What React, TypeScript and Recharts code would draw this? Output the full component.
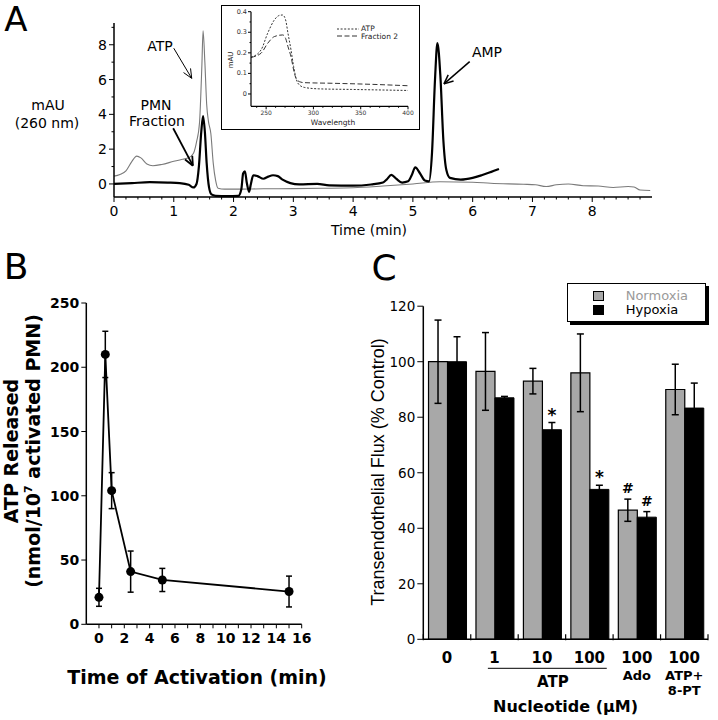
import React from "react";
import {
  LineChart,
  Line,
  XAxis,
  YAxis,
  ReferenceLine,
  BarChart,
  Bar,
  ErrorBar,
  LabelList,
  Legend,
} from "recharts";

const SANS = "'DejaVu Sans', Verdana, sans-serif";
const ARIAL = "'Liberation Sans', Arial, sans-serif";

// ---------- Panel A: HPLC trace at 260 nm ----------
const atpTime = [0, 0.1, 0.2, 0.3, 0.38, 0.45, 0.55, 0.65, 0.8, 1.0, 1.15, 1.25, 1.33, 1.38, 1.43, 1.47, 1.49, 1.52, 1.55, 1.58, 1.62, 1.66, 1.7, 1.74, 1.85, 2.0, 2.5, 3.0, 3.5, 4.0, 4.5, 5.0, 5.45, 6.0, 6.3, 6.85, 7.05, 7.23, 7.4, 7.6, 7.85, 8.1, 8.35, 8.6, 8.7, 8.8, 8.97];
const atpAbs = [0.45, 0.55, 0.75, 1.3, 1.6, 1.5, 1.15, 1.05, 1.12, 1.3, 1.42, 1.5, 1.76, 2.4, 3.5, 6.8, 8.8, 7.0, 4.6, 3.6, 2.9, 1.2, 0.2, -0.25, -0.3, -0.3, -0.28, -0.27, -0.25, -0.22, -0.12, 0.0, 0.13, 0.1, 0.04, -0.02, -0.05, -0.15, -0.05, 0.0, -0.1, -0.12, -0.2, -0.15, -0.18, -0.35, -0.38];
const pmnTime = [0, 0.3, 0.6, 0.9, 1.1, 1.25, 1.33, 1.38, 1.42, 1.46, 1.49, 1.52, 1.55, 1.59, 1.63, 1.7, 1.9, 2.08, 2.13, 2.16, 2.19, 2.22, 2.26, 2.29, 2.33, 2.4, 2.5, 2.58, 2.66, 2.74, 2.82, 2.95, 3.1, 3.4, 3.6, 4.0, 4.3, 4.5, 4.56, 4.64, 4.72, 4.82, 4.92, 4.98, 5.04, 5.12, 5.2, 5.27, 5.32, 5.37, 5.41, 5.46, 5.51, 5.56, 5.62, 5.8, 6.0, 6.15, 6.3, 6.44];
const pmnAbs = [0, 0.05, 0.1, 0.08, 0.05, -0.05, -0.2, 0.0, 1.0, 3.0, 3.9, 3.0, 1.2, -0.2, -0.6, -0.68, -0.7, -0.68, -0.3, 0.6, 0.72, 0.1, -0.45, 0.0, 0.5, 0.45, 0.3, 0.42, 0.5, 0.45, 0.25, 0.05, -0.03, 0.0, -0.08, -0.1, -0.03, 0.08, 0.25, 0.52, 0.3, 0.08, 0.15, 0.5, 0.95, 0.6, 0.2, 0.15, 1.8, 6.0, 8.1, 6.2, 2.5, 0.8, 0.35, 0.25, 0.35, 0.5, 0.68, 0.86];
const timeTicks = Array.from({ length: 45 }, (_, i) => Math.round(i * 2) / 10);
const absTicks = [0, 1, 2, 3, 4, 5, 6, 7, 8, 9];

// inset: UV spectra
const insetAtpNm = [234, 244.6, 251.6, 258.7, 264, 267.5, 270.6, 273.1, 276.3, 279.1, 281.6, 285.1, 290.3, 305, 340, 400];
const insetAtp = [0.178, 0.214, 0.295, 0.36, 0.382, 0.384, 0.36, 0.295, 0.214, 0.133, 0.076, 0.044, 0.032, 0.025, 0.022, 0.017];
const insetFracNm = [234, 244.6, 251.6, 258.7, 267.5, 270.6, 273.1, 276.3, 279.1, 281.6, 285.1, 290.3, 320, 360, 400];
const insetFrac = [0.178, 0.198, 0.246, 0.279, 0.287, 0.27, 0.23, 0.181, 0.117, 0.076, 0.06, 0.055, 0.052, 0.047, 0.04];
const nmTicks = [240, 250, 260, 270, 280, 290, 300, 310, 320, 330, 340, 350, 360, 370, 380, 390, 400];
const mauTicks = [0, 0.05, 0.1, 0.15, 0.2, 0.25, 0.3, 0.35, 0.4];

// ---------- Panel B: ATP release time course ----------
const bTime = [0, 0.5, 1, 2.5, 5, 15];
const bAtp = [21, 210, 104, 41, 34.5, 25.5];
const bErr = [7, 18, 14, 16, 9, 12];
const bTimeTicks = [0, 1, 2, 3, 4, 5, 6, 7, 8, 9, 10, 11, 12, 13, 14, 15, 16];
const bAtpTicks = [0, 50, 100, 150, 200, 250];

// ---------- Panel C: transendothelial flux ----------
const cKeys = ["0", "1", "10", "100", "Ado 100", "ATP+8-PT 100"];
const doses = ["0", "1", "10", "100", "100", "100"];
const agentTop = ["", "", "", "", "Ado", "ATP+"];
const agentBottom = ["", "", "", "", "", "8-PT"];
const normoxia = [100, 96.5, 93, 96, 46.5, 90];
const normoxiaErr = [15, 14, 4.6, 14, 4, 9.1];
const hypoxia = [100, 87, 75.5, 54, 44, 83.3];
const hypoxiaErr = [9, 0.5, 2.6, 1.5, 2, 9];
const normoxiaMarks = ["", "", "", "", "#", ""];
const hypoxiaMarks = ["", "", "*", "*", "#", ""];
const fluxTicks = [0, 20, 40, 60, 80, 100, 120];

const near = (a: number, b: number) => Math.abs(a - b) < 1e-6;

function Txt({ x, y, size, bold, color, family, rotate, children }: any) {
  return (
    <div
      style={{
        position: "absolute",
        left: x,
        top: y,
        transform: `translate(-50%, -50%)${rotate ? ` rotate(${rotate}deg)` : ""}`,
        fontFamily: family || SANS,
        fontSize: size,
        fontWeight: bold ? 700 : 400,
        color: color || "#000",
        whiteSpace: "nowrap",
        lineHeight: 1,
      }}
    >
      {children}
    </div>
  );
}

// generic tick renderers (axis tickSize/tickMargin are 0, so x/y sit on the axis line)
function bottomTick(opt: any) {
  return (p: any) => {
    const v = p.payload.value;
    const major = opt.isMajor(v);
    const len = major ? opt.majorLen : opt.minorLen;
    const show = major && (!opt.showLabel || opt.showLabel(v));
    return (
      <g>
        <line x1={p.x} x2={p.x} y1={p.y} y2={p.y + len} stroke="#000" strokeWidth={1} />
        {show && (
          <text x={p.x} y={p.y + opt.labelDy} textAnchor="middle" dominantBaseline="central" fontFamily={SANS} fontSize={opt.fontSize} fontWeight={opt.bold ? 700 : 400} fill={opt.color || "#000"}>
            {opt.fmt ? opt.fmt(v) : v}
          </text>
        )}
      </g>
    );
  };
}

function leftTick(opt: any) {
  return (p: any) => {
    const v = p.payload.value;
    const major = opt.isMajor(v);
    const len = major ? opt.majorLen : opt.minorLen;
    return (
      <g>
        <line x1={p.x} x2={p.x - len} y1={p.y} y2={p.y} stroke="#000" strokeWidth={1} />
        {major && (
          <text x={p.x - opt.labelDx} y={p.y} textAnchor="end" dominantBaseline="central" fontFamily={SANS} fontSize={opt.fontSize} fontWeight={opt.bold ? 700 : 400} fill={opt.color || "#000"}>
            {opt.fmt ? opt.fmt(v) : v}
          </text>
        )}
      </g>
    );
  };
}

// arrows for panel A annotations, built in data units
const A_SX = 538 / 9;
const A_SY = 174 / 10;
const aArrows = [
  { from: [1.0, 7.8], to: [1.3, 6.07], w: 1 },
  { from: [0.99, 3.2], to: [1.32, 1.05], w: 1.8 },
  { from: [5.95, 7.03], to: [5.52, 5.75], w: 1.5 },
];
function arrowSegments(from: number[], to: number[], head = 10, spread = 0.42) {
  const ang = Math.atan2(-(to[1] - from[1]) * A_SY, (to[0] - from[0]) * A_SX);
  const back = ang + Math.PI;
  const arm = (d: number) => [to[0] + (Math.cos(back + d) * head) / A_SX, to[1] - (Math.sin(back + d) * head) / A_SY];
  return [[from, to], [arm(spread), to], [arm(-spread), to]];
}

function PanelA() {
  const atp = atpTime.map((t, i) => ({ t, v: atpAbs[i] }));
  const pmn = pmnTime.map((t, i) => ({ t, v: pmnAbs[i] }));
  return (
    <div style={{ position: "absolute", left: 0, top: 0 }}>
      <LineChart width={718} height={245} margin={{ top: 23, right: 66, bottom: 18, left: 74 }}>
        <XAxis
          dataKey="t"
          type="number"
          domain={[0, 9]}
          ticks={timeTicks}
          interval={0}
          height={30}
          tickSize={0}
          tickMargin={0}
          tickLine={false}
          axisLine={{ stroke: "#000", strokeWidth: 1.5 }}
          tick={bottomTick({ isMajor: (v: number) => near(v, Math.round(v)), majorLen: 5, minorLen: 2.5, labelDy: 14, fontSize: 14 })}
        />
        <YAxis
          type="number"
          domain={[-0.75, 9.25]}
          ticks={absTicks}
          interval={0}
          width={40}
          tickSize={0}
          tickMargin={0}
          tickLine={false}
          axisLine={{ stroke: "#000", strokeWidth: 1.5 }}
          tick={leftTick({ isMajor: (v: number) => v % 2 === 0, majorLen: 5, minorLen: 2.5, labelDx: 7, fontSize: 14 })}
        />
        <Line data={atp} dataKey="v" type="monotone" stroke="#7a7a7a" strokeWidth={1.1} dot={false} isAnimationActive={false} />
        <Line data={pmn} dataKey="v" type="monotone" stroke="#000" strokeWidth={2.2} dot={false} isAnimationActive={false} />
        {aArrows.flatMap((a, ai) =>
          arrowSegments(a.from, a.to).map((s, si) => (
            <ReferenceLine
              key={`arr-${ai}-${si}`}
              segment={[{ x: s[0][0], y: s[0][1] }, { x: s[1][0], y: s[1][1] }]}
              stroke="#000"
              strokeWidth={a.w}
              ifOverflow="visible"
            />
          ))
        )}
      </LineChart>
    </div>
  );
}

const insetSeries = [
  { name: "ATP", nm: insetAtpNm, val: insetAtp, dash: "2 1.6" },
  { name: "Fraction 2", nm: insetFracNm, val: insetFrac, dash: "5 2.5" },
];

function InsetLegend() {
  return (
    <div style={{ fontFamily: SANS, fontSize: 7.5, color: "#222", lineHeight: "7.5px" }}>
      {insetSeries.map((s) => (
        <div key={s.name} style={{ display: "flex", alignItems: "center", height: 7.5 }}>
          <svg width={22} height={6} style={{ marginRight: 2 }}>
            <line x1={0} x2={22} y1={3} y2={3} stroke="#333" strokeWidth={1} strokeDasharray={s.dash} />
          </svg>
          <span>{s.name}</span>
        </div>
      ))}
    </div>
  );
}

function Inset() {
  return (
    <>
      <div style={{ position: "absolute", left: 221, top: 5, width: 199, height: 125, background: "#fff" }}>
        <LineChart width={199} height={125} margin={{ top: 6.7, right: 12, bottom: 13.7, left: 10 }}>
          <XAxis
            dataKey="nm"
            type="number"
            domain={[234, 400]}
            ticks={nmTicks}
            interval={0}
            height={10}
            tickSize={0}
            tickMargin={0}
            tickLine={false}
            axisLine={{ stroke: "#000", strokeWidth: 1.2 }}
            tick={bottomTick({ isMajor: (v: number) => v % 50 === 0, majorLen: 3, minorLen: 1.5, labelDy: 6.5, fontSize: 6, color: "#333" })}
          />
          <YAxis
            type="number"
            domain={[-0.06, 0.4]}
            ticks={mauTicks}
            interval={0}
            width={20}
            tickSize={0}
            tickMargin={0}
            tickLine={false}
            axisLine={{ stroke: "#000", strokeWidth: 1.2 }}
            tick={leftTick({ isMajor: (v: number) => near(v * 10, Math.round(v * 10)), majorLen: 3, minorLen: 1.5, labelDx: 4, fontSize: 6.5, color: "#333", fmt: (v: number) => (v === 0 ? "0" : v.toFixed(1)) })}
          />
          {insetSeries.map((s) => (
            <Line
              key={s.name}
              name={s.name}
              data={s.nm.map((n, i) => ({ nm: n, a: s.val[i] }))}
              dataKey="a"
              type="monotone"
              stroke="#333"
              strokeWidth={1}
              strokeDasharray={s.dash}
              dot={false}
              isAnimationActive={false}
            />
          ))}
          <Legend
            layout="horizontal"
            verticalAlign="middle"
            align="center"
            content={() => <InsetLegend />}
            wrapperStyle={{ left: 116, top: 20, width: 80 }}
          />
        </LineChart>
      </div>
      <div style={{ position: "absolute", left: 221, top: 5, width: 199, height: 125, border: "1.5px solid #000", boxSizing: "border-box", pointerEvents: "none" }} />
    </>
  );
}

function PanelB() {
  const data = bTime.map((t, i) => ({ t, atp: bAtp[i], err: bErr[i] }));
  return (
    <div style={{ position: "absolute", left: 0, top: 290 }}>
      <LineChart width={340} height={400} data={data} margin={{ top: 13, right: 38.3, bottom: 35.7, left: 46.3 }}>
        <XAxis
          dataKey="t"
          type="number"
          domain={[-1, 16]}
          ticks={bTimeTicks}
          interval={0}
          height={30}
          tickSize={0}
          tickMargin={0}
          tickLine={false}
          axisLine={{ stroke: "#000", strokeWidth: 1.5 }}
          tick={bottomTick({ isMajor: () => true, showLabel: (v: number) => v % 2 === 0, majorLen: 4, minorLen: 4, labelDy: 14, fontSize: 14, bold: true })}
        />
        <YAxis
          type="number"
          domain={[0, 250]}
          ticks={bAtpTicks}
          interval={0}
          width={40}
          tickSize={0}
          tickMargin={0}
          tickLine={false}
          axisLine={{ stroke: "#000", strokeWidth: 1.5 }}
          tick={leftTick({ isMajor: () => true, majorLen: 5, minorLen: 5, labelDx: 7, fontSize: 14, bold: true })}
        />
        <Line dataKey="atp" type="linear" stroke="#000" strokeWidth={1.8} dot={{ r: 4.5, fill: "#000", stroke: "#000", strokeWidth: 0 }} isAnimationActive={false}>
          <ErrorBar dataKey="err" direction="y" width={3} stroke="#000" strokeWidth={1.5} />
        </Line>
      </LineChart>
    </div>
  );
}

const C_BAND = 284.7 / 6;

function cTick(p: any) {
  const { x, y, payload } = p;
  const i = payload.index;
  const font = { fontFamily: SANS, fontWeight: 700, fontSize: 15, textAnchor: "middle", dominantBaseline: "central" } as any;
  const small = { ...font, fontSize: 13 };
  return (
    <g>
      <line x1={x - C_BAND / 2} x2={x - C_BAND / 2} y1={y - 5} y2={y + 1} stroke="#000" strokeWidth={1.2} />
      {i === doses.length - 1 && <line x1={x + C_BAND / 2} x2={x + C_BAND / 2} y1={y - 5} y2={y + 1} stroke="#000" strokeWidth={1.2} />}
      <text x={x} y={y + 19} {...font}>{doses[i]}</text>
      {agentTop[i] && <text x={x} y={y + 36.5} {...small}>{agentTop[i]}</text>}
      {agentBottom[i] && <text x={x} y={y + 51.5} {...small}>{agentBottom[i]}</text>}
      {i === 2 && (
        <>
          <line x1={x - C_BAND - 6.6} x2={x + C_BAND + 17.4} y1={y + 29} y2={y + 29} stroke="#000" strokeWidth={1} />
          <text x={x + 11} y={y + 42.4} {...font}>ATP</text>
        </>
      )}
    </g>
  );
}

function markLabel(marks: string[], vals: number[], errs: number[]) {
  return (p: any) => {
    const i = p.index;
    const m = marks[i];
    if (!m) return null;
    const pxPer = p.height / vals[i];
    const top = p.y - errs[i] * pxPer;
    return (
      <text x={p.x + p.width / 2} y={top - (m === "*" ? 2 : 6)} textAnchor="middle" fontFamily={SANS} fontWeight={700} fontSize={m === "*" ? 17 : 14}>
        {m}
      </text>
    );
  };
}

const cSeries = [
  { name: "Normoxia", fill: "#a8a8a8", text: "#9a9a9a" },
  { name: "Hypoxia", fill: "#000", text: "#000" },
];

function CLegend() {
  return (
    <div style={{ position: "relative", width: 139, height: 39, border: "1px solid #000", boxShadow: "3px 3px 0 #000", background: "#fff", boxSizing: "border-box", fontFamily: SANS, fontSize: 13 }}>
      {cSeries.map((s, i) => (
        <React.Fragment key={s.name}>
          <div style={{ position: "absolute", left: 25, top: 7 + i * 14, width: 11, height: 10, background: s.fill, border: "1px solid #000", boxSizing: "border-box" }} />
          <div style={{ position: "absolute", left: 58, top: 6 + i * 14, height: 12, lineHeight: "12px", color: s.text }}>{s.name}</div>
        </React.Fragment>
      ))}
    </div>
  );
}

function PanelC() {
  const data = cKeys.map((k, i) => ({ k, n: normoxia[i], nErr: normoxiaErr[i], h: hypoxia[i], hErr: hypoxiaErr[i] }));
  return (
    <div style={{ position: "absolute", left: 340, top: 270 }}>
      <BarChart width={378} height={450} data={data} margin={{ top: 36.2, right: 10, bottom: 50.7, left: 43.3 }} barCategoryGap="11%" barGap={0}>
        <XAxis
          dataKey="k"
          type="category"
          interval={0}
          height={30}
          tickSize={0}
          tickMargin={0}
          tickLine={false}
          axisLine={{ stroke: "#000", strokeWidth: 1.5 }}
          tick={cTick}
        />
        <YAxis
          type="number"
          domain={[0, 120]}
          ticks={fluxTicks}
          interval={0}
          width={40}
          tickSize={0}
          tickMargin={0}
          tickLine={false}
          axisLine={{ stroke: "#000", strokeWidth: 1.5 }}
          tick={leftTick({ isMajor: () => true, majorLen: 6, minorLen: 6, labelDx: 8, fontSize: 13.5 })}
        />
        <Legend layout="horizontal" verticalAlign="middle" align="center" content={() => <CLegend />} wrapperStyle={{ left: 226.7, top: 12.7, width: 142 }} />
        <Bar dataKey="n" name="Normoxia" fill="#a8a8a8" stroke="#000" strokeWidth={1.2} isAnimationActive={false}>
          <ErrorBar dataKey="nErr" direction="y" width={3.5} stroke="#000" strokeWidth={1.5} />
          <LabelList content={markLabel(normoxiaMarks, normoxia, normoxiaErr)} />
        </Bar>
        <Bar dataKey="h" name="Hypoxia" fill="#000" stroke="#000" strokeWidth={1} isAnimationActive={false}>
          <ErrorBar dataKey="hErr" direction="y" width={3.5} stroke="#000" strokeWidth={1.5} />
          <LabelList content={markLabel(hypoxiaMarks, hypoxia, hypoxiaErr)} />
        </Bar>
      </BarChart>
    </div>
  );
}

export default function App() {
  return (
    <div style={{ position: "absolute", left: 0, top: 0, width: 718, height: 720, background: "#fff", overflow: "hidden" }}>
      <PanelA />
      <Inset />
      <PanelB />
      <PanelC />

      {/* panel letters */}
      <Txt x={16} y={19} size={34}>A</Txt>
      <Txt x={16} y={267} size={36}>B</Txt>
      <Txt x={384} y={268} size={36}>C</Txt>

      {/* panel A text */}
      <Txt x={48} y={105} size={14}>mAU</Txt>
      <Txt x={47} y={123} size={14}>(260 nm)</Txt>
      <Txt x={369} y={230} size={14}>Time (min)</Txt>
      <Txt x={160} y={46} size={14}>ATP</Txt>
      <Txt x={156} y={105} size={14}>PMN</Txt>
      <Txt x={157} y={121} size={14}>Fraction</Txt>
      <Txt x={487} y={52} size={14}>AMP</Txt>
      <Txt x={231} y={60} size={7} rotate={-90} color="#222">mAU</Txt>
      <Txt x={333} y={122.5} size={7.5} color="#222">Wavelength</Txt>

      {/* panel B text */}
      <Txt x={11} y={451} size={19} bold rotate={-90}>ATP Released</Txt>
      <Txt x={33} y={451} size={19} bold rotate={-90}>
        (nmol/10<sup style={{ fontSize: 11 }}>7</sup> activated PMN)
      </Txt>
      <Txt x={197} y={677} size={19} bold>Time of Activation (min)</Txt>

      {/* panel C text */}
      <Txt x={378} y={472} size={18} family={ARIAL} rotate={-90}>Transendothelial Flux (% Control)</Txt>
      <Txt x={565.5} y={707} size={16} bold>Nucleotide (μM)</Txt>
    </div>
  );
}
